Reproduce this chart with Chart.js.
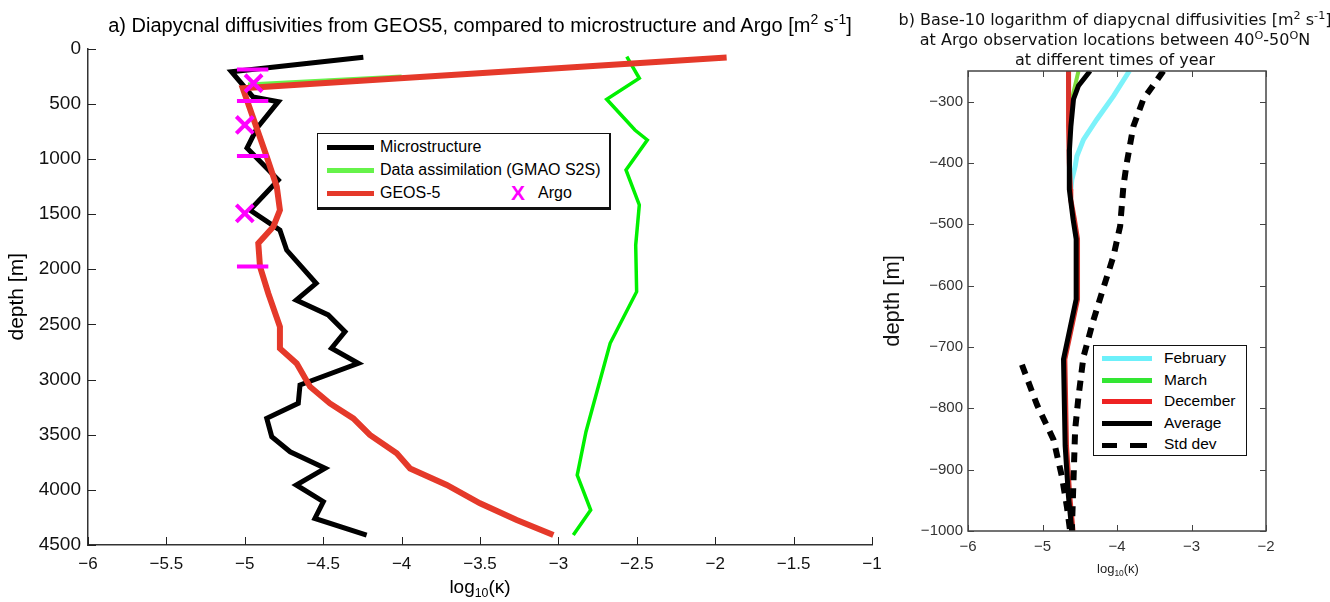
<!DOCTYPE html>
<html>
<head>
<meta charset="utf-8">
<script src="https://cdn.jsdelivr.net/npm/chart.js@4.4.1/dist/chart.umd.min.js"></script>
<style>
body { margin: 0; background: #fff; }
#wrap { position: relative; width: 1330px; height: 602px; overflow: hidden; font-family: "Liberation Sans", Arial, sans-serif; }
canvas { position: absolute; top: 0; }
.t { position: absolute; white-space: nowrap; color: #000; text-align: center; }
sup { font-size: 0.7em; vertical-align: 0.55em; line-height: 0; }
sub { font-size: 0.65em; vertical-align: -0.35em; line-height: 0; }
.lg { position: absolute; background: #fff; box-sizing: border-box; }
.it { position: absolute; white-space: nowrap; }
.ln { position: absolute; }
</style>
</head>
<body>
<div id="wrap">
  <canvas id="left" width="890" height="602" style="left:0"></canvas>
  <canvas id="right" width="450" height="602" style="left:880px"></canvas>

  <div class="t" style="left:0;width:960px;top:13px;font-size:20px;line-height:24px;">a) Diapycnal diffusivities from GEOS5, compared to microstructure and Argo [m<sup>2</sup> s<sup>-1</sup>]</div>
  <div class="t" style="left:0;width:960px;top:576px;font-size:19px;line-height:22px;">log<sub>10</sub>(κ)</div>

  <div class="t" style="left:880px;width:470px;top:10px;font-family:'DejaVu Sans',sans-serif;font-size:16px;line-height:20px;color:#111;">b) Base-10 logarithm of diapycnal diffusivities [m<sup>2</sup> s<sup>-1</sup>]<br>at Argo observation locations between 40<sup>O</sup>-50<sup>O</sup>N<br>at different times of year</div>
  <div class="t" style="left:1018px;width:200px;top:561px;font-size:13px;line-height:15px;color:#222;">log<sub>10</sub>(κ)</div>

  <div class="lg" style="left:317px;top:133px;width:294px;height:77px;border:1.5px solid #111;border-bottom-width:3px;border-right-width:2.5px;">
    <div class="ln" style="left:9px;top:11px;width:47px;height:5px;background:#000;"></div>
    <div class="it" style="left:62px;top:4px;font-size:16px;line-height:18px;">Microstructure</div>
    <div class="ln" style="left:9px;top:34px;width:47px;height:5px;background:#66f34a;"></div>
    <div class="it" style="left:62px;top:27px;font-size:16px;line-height:18px;">Data assimilation (GMAO S2S)</div>
    <div class="ln" style="left:9px;top:57px;width:47px;height:5px;background:#e5392a;"></div>
    <div class="it" style="left:62px;top:50px;font-size:16px;line-height:18px;">GEOS-5</div>
    <div class="it" style="left:193px;top:48px;font-size:21px;line-height:22px;font-weight:bold;color:#ff00ff;">X</div>
    <div class="it" style="left:220px;top:50px;font-size:16px;line-height:18px;">Argo</div>
  </div>

  <div class="lg" style="left:1093px;top:345px;width:154px;height:111px;border:1.5px solid #111;">
    <div class="ln" style="left:8px;top:10px;width:50px;height:5px;background:#6cf0fa;"></div>
    <div class="it" style="left:70px;top:3px;font-size:15.5px;line-height:18px;">February</div>
    <div class="ln" style="left:8px;top:32px;width:50px;height:5px;background:#33e633;"></div>
    <div class="it" style="left:70px;top:25px;font-size:15.5px;line-height:18px;">March</div>
    <div class="ln" style="left:8px;top:53px;width:50px;height:5px;background:#ee2222;"></div>
    <div class="it" style="left:70px;top:46px;font-size:15.5px;line-height:18px;">December</div>
    <div class="ln" style="left:8px;top:75px;width:50px;height:5px;background:#000;"></div>
    <div class="it" style="left:70px;top:68px;font-size:15.5px;line-height:18px;">Average</div>
    <div class="ln" style="left:8px;top:97px;width:15px;height:5px;background:#000;"></div>
    <div class="ln" style="left:36px;top:97px;width:17px;height:5px;background:#000;"></div>
    <div class="it" style="left:70px;top:89px;font-size:15.5px;line-height:18px;">Std dev</div>
  </div>
</div>

<script>
// ---- panel a) ----
var leftXTicks = [-6, -5.5, -5, -4.5, -4, -3.5, -3, -2.5, -2, -1.5, -1];
var leftYTicks = [0, 500, 1000, 1500, 2000, 2500, 3000, 3500, 4000, 4500];

var microX = [-4.244, -5.085, -4.948, -4.786, -4.922, -4.986, -4.786, -4.967, -4.776, -4.733, -4.545, -4.672, -4.468,
              -4.361, -4.447, -4.276, -4.648, -4.659, -4.860, -4.828, -4.711, -4.488, -4.672, -4.499, -4.553, -4.223];
var microDepth = [80, 210, 439, 482, 721, 902, 1192, 1464, 1646, 1827, 2128, 2280, 2415,
                  2567, 2717, 2854, 3050, 3216, 3352, 3519, 3655, 3805, 3956, 4107, 4259, 4410];

var geosX = [-1.927, -5.013, -4.860, -4.796, -4.776, -4.818, -4.914, -4.903, -4.850, -4.776, -4.776,
             -4.669, -4.584, -4.457, -4.308, -4.202, -4.031, -3.946, -3.712, -3.500, -3.266, -3.032];
var geosDepth = [82, 361, 981, 1253, 1464, 1615, 1766, 1978, 2220, 2522, 2718,
                 2854, 3065, 3217, 3353, 3503, 3669, 3806, 3956, 4122, 4273, 4410];

// mostly hidden under the GEOS-5 line
var assimX = [-4.98, -4.0];
var assimDepth = [322, 250];

var greenX = [-2.564, -2.484, -2.692, -2.512, -2.433, -2.569, -2.484, -2.507, -2.501, -2.670, -2.824, -2.880, -2.794, -2.905];
var greenDepth = [74, 270, 460, 739, 829, 1101, 1418, 1781, 2204, 2672, 3473, 3866, 4183, 4410];

var argoX = [-4.944, -5.0, -5.0];
var argoDepth = [315, 693, 1494];

var argoBarDepth = [190, 475, 975, 1975];
var argoBarLeft = -5.05;
var argoBarRight = -4.85;

// ---- panel b) ----
var rightXTicks = [-6, -5, -4, -3, -2];
var rightYTicks = [-1000, -900, -800, -700, -600, -500, -400, -300];

var avgX = [-4.361, -4.517, -4.584, -4.619, -4.638, -4.642, -4.638, -4.589, -4.548, -4.548, -4.718, -4.696, -4.652, -4.606];
var avgY = [-250, -274, -296, -340, -378, -421, -443, -492, -524, -622, -720, -861, -943, -1000];

var febX = [-3.834, -4.048, -4.271, -4.45, -4.539, -4.561, -4.606, -4.62];
var febY = [-250, -291, -329, -362, -389, -405, -427, -445];

var marX = [-4.517, -4.606, -4.63];
var marY = [-250, -296, -340];

var decX = [-4.651, -4.650, -4.640, -4.625, -4.620, -4.572, -4.530, -4.530, -4.700, -4.678, -4.634, -4.590];
var decY = [-250, -340, -400, -443, -460, -492, -524, -622, -720, -861, -943, -1000];

var stdHiX = [-3.378, -3.646, -3.780, -3.869, -3.914, -3.958, -4.048, -4.204, -4.316, -4.450, -4.517, -4.562, -4.584, -4.606];
var stdHiY = [-250, -296, -340, -400, -438, -503, -552, -612, -656, -716, -781, -835, -917, -1000];

var stdLoX = [-5.276, -5.075, -4.852, -4.740, -4.673, -4.629];
var stdLoY = [-729, -794, -851, -911, -960, -1000];

function pts(xs, ys) {
    return xs.map(function (x, i) { return {x: x, y: ys[i]}; });
}

function minus(v) {
    return String(v).replace('-', '\u2212');
}

function line(data, color, width, order, dash) {
    return {
        data: data, showLine: true, borderColor: color, borderWidth: width,
        pointRadius: 0, tension: 0, order: order, borderDash: dash || []
    };
}

// ticks drawn inside the axes, and the box for panel b
var inTicks = {
    id: 'inTicks',
    afterDraw: function (chart, args, opts) {
        var ctx = chart.ctx, a = chart.chartArea;
        var sx = chart.scales.x, sy = chart.scales.y;
        ctx.save();
        ctx.strokeStyle = opts.color;
        ctx.lineWidth = 1;
        ctx.beginPath();
        sx.ticks.forEach(function (t) {
            var px = Math.round(sx.getPixelForValue(t.value)) + 0.5;
            ctx.moveTo(px, a.bottom); ctx.lineTo(px, a.bottom - opts.len);
            if (opts.box) { ctx.moveTo(px, a.top); ctx.lineTo(px, a.top + opts.len); }
        });
        sy.ticks.forEach(function (t) {
            var py = Math.round(sy.getPixelForValue(t.value)) + 0.5;
            ctx.moveTo(a.left, py); ctx.lineTo(a.left + opts.len, py);
            if (opts.box) { ctx.moveTo(a.right, py); ctx.lineTo(a.right - opts.len, py); }
        });
        ctx.stroke();
        if (opts.box) {
            ctx.lineWidth = 1.5;
            ctx.strokeRect(a.left, a.top, a.right - a.left, a.bottom - a.top);
        }
        ctx.restore();
    }
};

function setTicks(list) {
    return function (s) { s.ticks = list.map(function (v) { return {value: v}; }); };
}

function noPad(size, horiz) {
    return function (s) {
        if (horiz) s.height = size; else s.width = size;
        s.paddingLeft = 0; s.paddingRight = 0; s.paddingTop = 0; s.paddingBottom = 0;
    };
}

var leftSets = [
    line(pts(assimX, assimDepth), '#66f34a', 3, 5),
    line(pts(greenX, greenDepth), '#00f000', 3.5, 4),
    line(pts(microX, microDepth), '#000000', 5, 3),
    line(pts(geosX, geosDepth), '#e5392a', 6, 2)
];
argoBarDepth.forEach(function (d) {
    leftSets.push(line([{x: argoBarLeft, y: d}, {x: argoBarRight, y: d}], '#ff00ff', 4, 1));
});
leftSets.push({
    data: pts(argoX, argoDepth), showLine: false, pointStyle: 'crossRot', pointRadius: 12,
    borderColor: '#ff00ff', borderWidth: 4, order: 0
});

new Chart(document.getElementById('left'), {
    type: 'scatter',
    data: {datasets: leftSets},
    options: {
        responsive: false, animation: false,
        layout: {padding: {top: 48.5, right: 18, bottom: 0, left: 0}},
        plugins: {legend: {display: false}, tooltip: {enabled: false}, inTicks: {color: '#222', len: 8, box: false}},
        scales: {
            x: {
                type: 'linear', min: -6, max: -1,
                afterBuildTicks: setTicks(leftXTicks), afterFit: noPad(57, true),
                grid: {display: false, drawTicks: false},
                border: {display: true, color: '#333', width: 1.5},
                ticks: {padding: 9, color: '#111', font: {family: 'Liberation Sans', size: 17}, maxRotation: 0, autoSkip: false,
                        callback: function (v) { return minus(v); }}
            },
            y: {
                type: 'linear', min: 0, max: 4500, reverse: true,
                afterBuildTicks: setTicks(leftYTicks), afterFit: noPad(88, false),
                grid: {display: false, drawTicks: false},
                border: {display: true, color: '#333', width: 1.5},
                title: {display: true, text: 'depth [m]', color: '#000', font: {family: 'Liberation Sans', size: 21}, padding: {top: 5, bottom: 0}},
                ticks: {padding: 7, color: '#111', font: {family: 'Liberation Sans', size: 19}, autoSkip: false,
                        callback: function (v) { return minus(v); }}
            }
        }
    },
    plugins: [inTicks]
});

new Chart(document.getElementById('right'), {
    type: 'scatter',
    data: {
        datasets: [
            line(pts(stdLoX, stdLoY), '#000000', 6, 1, [10, 8]),
            line(pts(stdHiX, stdHiY), '#000000', 6, 1, [10, 8]),
            line(pts(febX, febY), '#7cf2fa', 5, 5),
            line(pts(marX, marY), '#7ddc3c', 4, 4),
            line(pts(decX, decY), '#d9322a', 5, 3),
            line(pts(avgX, avgY), '#000000', 5, 2)
        ]
    },
    options: {
        responsive: false, animation: false,
        layout: {padding: {top: 71, right: 64, bottom: 0, left: 0}},
        plugins: {legend: {display: false}, tooltip: {enabled: false}, inTicks: {color: '#444', len: 6, box: true}},
        scales: {
            x: {
                type: 'linear', min: -6, max: -2,
                afterBuildTicks: setTicks(rightXTicks), afterFit: noPad(71, true),
                grid: {display: false, drawTicks: false},
                border: {display: false},
                ticks: {padding: 7, color: '#333', font: {family: 'Liberation Sans', size: 15}, maxRotation: 0, autoSkip: false,
                        callback: function (v) { return minus(v); }}
            },
            y: {
                type: 'linear', min: -1000, max: -250,
                afterBuildTicks: setTicks(rightYTicks), afterFit: noPad(88, false),
                grid: {display: false, drawTicks: false},
                border: {display: false},
                title: {display: true, text: 'depth [m]', color: '#111', font: {family: 'Liberation Sans', size: 22}, padding: {top: 0, bottom: 0}},
                ticks: {padding: 5, color: '#333', font: {family: 'Liberation Sans', size: 15}, autoSkip: false,
                        callback: function (v) { return minus(v); }}
            }
        }
    },
    plugins: [inTicks]
});
</script>
</body>
</html>
